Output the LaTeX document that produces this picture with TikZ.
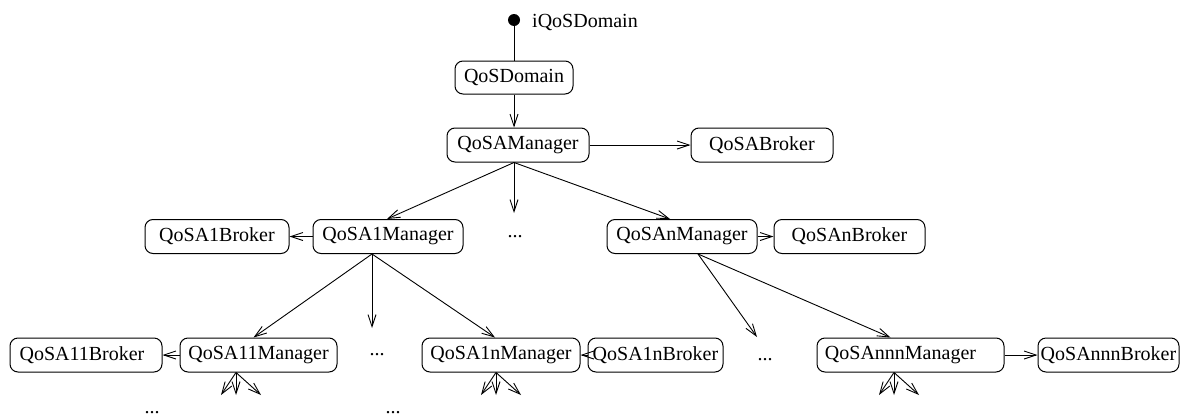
\documentclass[tikz,border=0pt]{standalone}
\usepackage{fontspec}
\setmainfont{Liberation Serif}
\usetikzlibrary{arrows.meta}
\begin{document}
\begin{tikzpicture}[x=1pt,y=-1pt,
  box/.style={draw, rounded corners=8pt, line width=1pt, minimum height=34pt, inner sep=0pt, font=\fontsize{20}{24}\selectfont},
  arr/.style={-{Straight Barb[length=12pt,width=8pt]}, line width=0.9pt},
  plain/.style={line width=0.9pt},
  dotstxt/.style={font=\fontsize{20}{24}\selectfont, inner sep=0pt, anchor=base},
  lbl/.style={font=\fontsize{20}{24}\selectfont, inner sep=0pt, anchor=base west}]
\useasboundingbox (0,0) rectangle (1189,418);
% top
\node[circle, fill, inner sep=0pt, minimum size=12pt] (idot) at (514,20) {};
\node[lbl] (ilbl) at (532,27) {iQoSDomain};
\node[box, minimum width=118pt, minimum height=33pt] (dom) at (514,77.5) {QoSDomain};
\node[box, minimum width=142pt] (mgr) at (518,145) {QoSAManager};
\node[box, minimum width=142pt] (abr) at (762,145) {QoSABroker};
% row 2
\node[box, minimum width=144pt] (a1b) at (217,236.5) {QoSA1Broker};
\node[box, minimum width=150pt] (a1m) at (388,236.5) {QoSA1Manager};
\node[dotstxt] (d2) at (515,237) {...};
\node[box, minimum width=150pt] (anm) at (682,236.5) {QoSAnManager};
\node[box, minimum width=151pt] (anb) at (849.5,236.5) {QoSAnBroker};
% row 3
\node[box, minimum width=152pt] (a11b) at (86,355) {QoSA11Broker\hspace*{8pt}};
\node[box, minimum width=157pt] (a11m) at (258.5,355) {QoSA11Manager};
\node[dotstxt] (d3a) at (377,355) {...};
\node[box, minimum width=158pt] (a1nm) at (501,355) {QoSA1nManager};
\node[box, minimum width=135pt] (a1nb) at (655.5,355) {QoSA1nBroker};
\node[dotstxt] (d3b) at (765,360) {...};
\node[box, minimum width=187pt] (annm) at (910.5,355) {QoSAnnnManager\hspace*{20pt}};
\node[box, minimum width=141pt] (annb) at (1108.5,355) {QoSAnnnBroker};
% bottom dots
\node[dotstxt] (d4a) at (152,413) {...};
\node[dotstxt] (d4b) at (393,413) {...};
% connectors top
\draw[plain] (idot) -- (dom.north);
\draw[arr] (dom.south) -- (dom.south |- mgr.north);
\draw[arr] (mgr.east) -- (abr.west);
\coordinate (mo) at (dom.south |- mgr.south);
\coordinate (mmid) at (514,213);
\draw[arr] (mo) -- ([xshift=-1pt]a1m.north);
\draw[arr] (mo) -- (mmid);
\draw[arr] (mo) -- ([xshift=-12pt]anm.north);
\draw[arr] (a1m.west) -- (a1b.east);
\draw[arr] (anm.east) -- (anb.west);
% row 2 fans
\coordinate (a1o) at ([xshift=-16pt]a1m.south);
\coordinate (a1mid) at (372,328);
\draw[arr] (a1o) -- ([xshift=-5pt]a11m.north);
\draw[arr] (a1o) -- (a1mid);
\draw[arr] (a1o) -- ([xshift=-6pt]a1nm.north);
\coordinate (ano) at ([xshift=16pt]anm.south);
\coordinate (anair) at (757,337);
\draw[arr] (ano) -- (anair);
\draw[arr] (ano) -- ([xshift=-20pt]annm.north);
% row 3 horizontal
\draw[arr] (a11m.west) -- (a11b.east);
\draw[arr] (a1nb.west) -- (a1nm.east);
\draw[arr] (annm.east) -- (annb.west);
% row 3 fans
\foreach \n/\dx in {a11m/-22.5, a1nm/-5, annm/-16.5}{
  \coordinate (\n o) at ([xshift=\dx pt]\n.south);
  \coordinate (\n l) at ([xshift=-15pt]\n o |- 0,395);
  \coordinate (\n c) at (\n o |- 0,395);
  \coordinate (\n r) at ([xshift=25pt]\n o |- 0,395);
  \draw[arr] (\n o) -- (\n l);
  \draw[arr] (\n o) -- (\n c);
  \draw[arr] (\n o) -- (\n r);
}
\end{tikzpicture}
\end{document}
